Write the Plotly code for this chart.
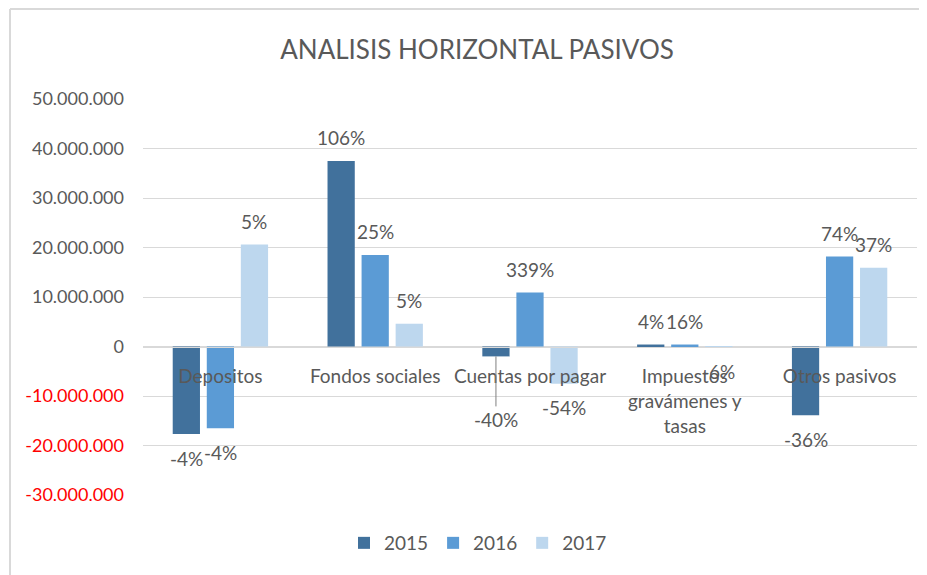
import plotly.graph_objects as go

categories = ["Depositos", "Fondos sociales", "Cuentas por pagar",
              "Impuestos<br>gravámenes y<br>tasas", "Otros pasivos"]
years = ["2015", "2016", "2017"]

v2015 = [-17700000, 37500000, -2000000, 400000, -13900000]
v2016 = [-16500000, 18500000, 10900000, 400000, 18200000]
v2017 = [20600000, 4600000, -7500000, -100000, 15900000]

pct2015 = ["-4%", "106%", "-40%", "4%", "-36%"]
pct2016 = ["-4%", "25%", "339%", "16%", "74%"]
pct2017 = ["5%", "5%", "-54%", "-6%", "37%"]

tick_vals = [50000000, 40000000, 30000000, 20000000, 10000000, 0,
             -10000000, -20000000, -30000000]

colors = ["#41719C", "#5B9BD5", "#BDD7EE"]
font = "Lato"
grey = "#595959"
bargap = 0.34

# page body has an 8px margin, so the figure is sized to fit the rest
W, H = 919, 567
L, R, T, B = 135, 10, 91, 80
PW, PH = W - L - R, H - T - B

series = [v2015, v2016, v2017]
labels = [pct2015, pct2016, pct2017]


def fmt(v):
    s = f"{abs(v):,}".replace(",", ".")
    if v < 0:
        return f'<span style="color:#FF0000">-{s}</span>'
    return s


fig = go.Figure()
for name, vals, color in zip(years, series, colors):
    fig.add_trace(go.Bar(x=categories, y=vals, name=name,
                         marker=dict(color=color, line=dict(width=0))))

# data labels (percent change) at the end of each bar
annotations = []
slot = (1 - bargap) / 3
for i, (vals, labs) in enumerate(zip(series, labels)):
    for j, (v, t) in enumerate(zip(vals, labs)):
        x = j + (i - 1) * slot
        if i == 0 and j == 2:
            # label pulled down with a leader line
            annotations.append(dict(x=x, y=v, xref="x", yref="y", text=t,
                                    showarrow=True, arrowhead=0, arrowwidth=1,
                                    arrowcolor="#7F7F7F", ax=0, ay=63,
                                    font=dict(family=font, size=19, color=grey)))
            continue
        annotations.append(dict(x=x, y=v, xref="x", yref="y", text=t,
                                showarrow=False, yshift=23 if v >= 0 else -24,
                                font=dict(family=font, size=19, color=grey)))

bx = (2 - L) / PW
by = (H - B - 1) / PH

fig.update_layout(
    width=W, height=H,
    margin=dict(l=L, r=R, t=T, b=B, autoexpand=False),
    paper_bgcolor="white", plot_bgcolor="white",
    barmode="group", bargap=bargap, bargroupgap=0.2,
    title=dict(text="ANALISIS HORIZONTAL PASIVOS", x=469 / W, xanchor="center",
               xref="container", y=1 - 42 / H, yref="container", yanchor="middle",
               font=dict(family=font, size=26, color=grey)),
    font=dict(family=font, size=16, color=grey),
    showlegend=True,
    legend=dict(orientation="h", x=470 / W, xref="container", xanchor="center",
                y=(H - 535) / H, yref="container", yanchor="middle",
                font=dict(family=font, size=19, color=grey),
                itemwidth=30, traceorder="normal"),
    annotations=annotations,
    shapes=[
        dict(type="line", xref="paper", yref="paper", x0=bx, x1=1.05,
             y0=by, y1=by, line=dict(color="#D9D9D9", width=2)),
        dict(type="line", xref="paper", yref="paper", x0=bx, x1=bx,
             y0=by, y1=-0.3, line=dict(color="#D9D9D9", width=2)),
    ],
)

fig.update_xaxes(anchor="free", position=30 / 80, showgrid=False,
                 showline=True, linecolor="#D9D9D9", linewidth=1,
                 ticks="", tickfont=dict(family=font, size=19, color=grey),
                 ticklabelstandoff=13, automargin=False)
fig.update_yaxes(range=[-30000000, 50000000], tickvals=tick_vals,
                 ticktext=[fmt(v) for v in tick_vals],
                 showgrid=True, gridcolor="#D9D9D9", gridwidth=1,
                 zeroline=False, showline=False, ticks="",
                 ticklabelstandoff=18, automargin=False,
                 tickfont=dict(family=font, size=18, color=grey))

fig.write_html("out.html")
